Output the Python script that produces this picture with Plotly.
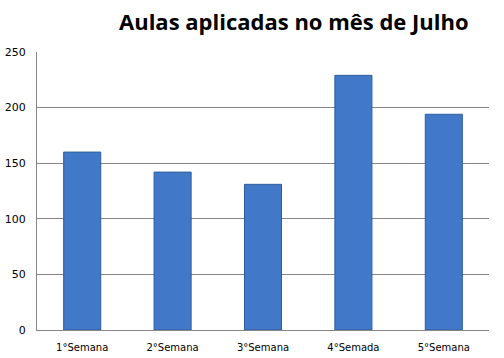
import plotly.graph_objects as go

categories = ["1°Semana", "2°Semana", "3°Semana", "4°Semada", "5°Semana"]
values = [160, 142, 131, 229, 194]
y_ticks = [0, 50, 100, 150, 200, 250]

fig = go.Figure(go.Bar(
    x=categories, y=values,
    marker=dict(color="#4179c8", line=dict(color="#2c5d9e", width=1)),
))

fig.update_layout(
    width=504, height=358,
    margin=dict(l=37, r=15, t=52, b=28),
    paper_bgcolor="white", plot_bgcolor="white",
    bargap=0.59,
    showlegend=False,
    title=dict(text="<b>Aulas aplicadas no mês de Julho</b>", x=0.583, xanchor="center",
               y=0.9385, yanchor="middle",
               font=dict(family="Open Sans, Liberation Sans, sans-serif", size=22, color="black")),
    font=dict(family="DejaVu Sans, Tahoma, sans-serif", size=11, color="black"),
)
fig.update_xaxes(showgrid=False, showline=True, linecolor="#868686", linewidth=1,
                 ticks="outside", ticklen=8, tickcolor="white", tickfont=dict(size=10),
                 automargin=False)
fig.update_yaxes(range=[0, 250], tickvals=y_ticks, showgrid=True, gridcolor="#868686",
                 gridwidth=1, showline=True, linecolor="#868686", linewidth=1,
                 ticks="outside", ticklen=8, tickcolor="white", zeroline=False,
                 tickfont=dict(size=11), automargin=False)

fig.write_html("out.html", config={"displayModeBar": False},
               post_script="document.body.style.margin='0';")
